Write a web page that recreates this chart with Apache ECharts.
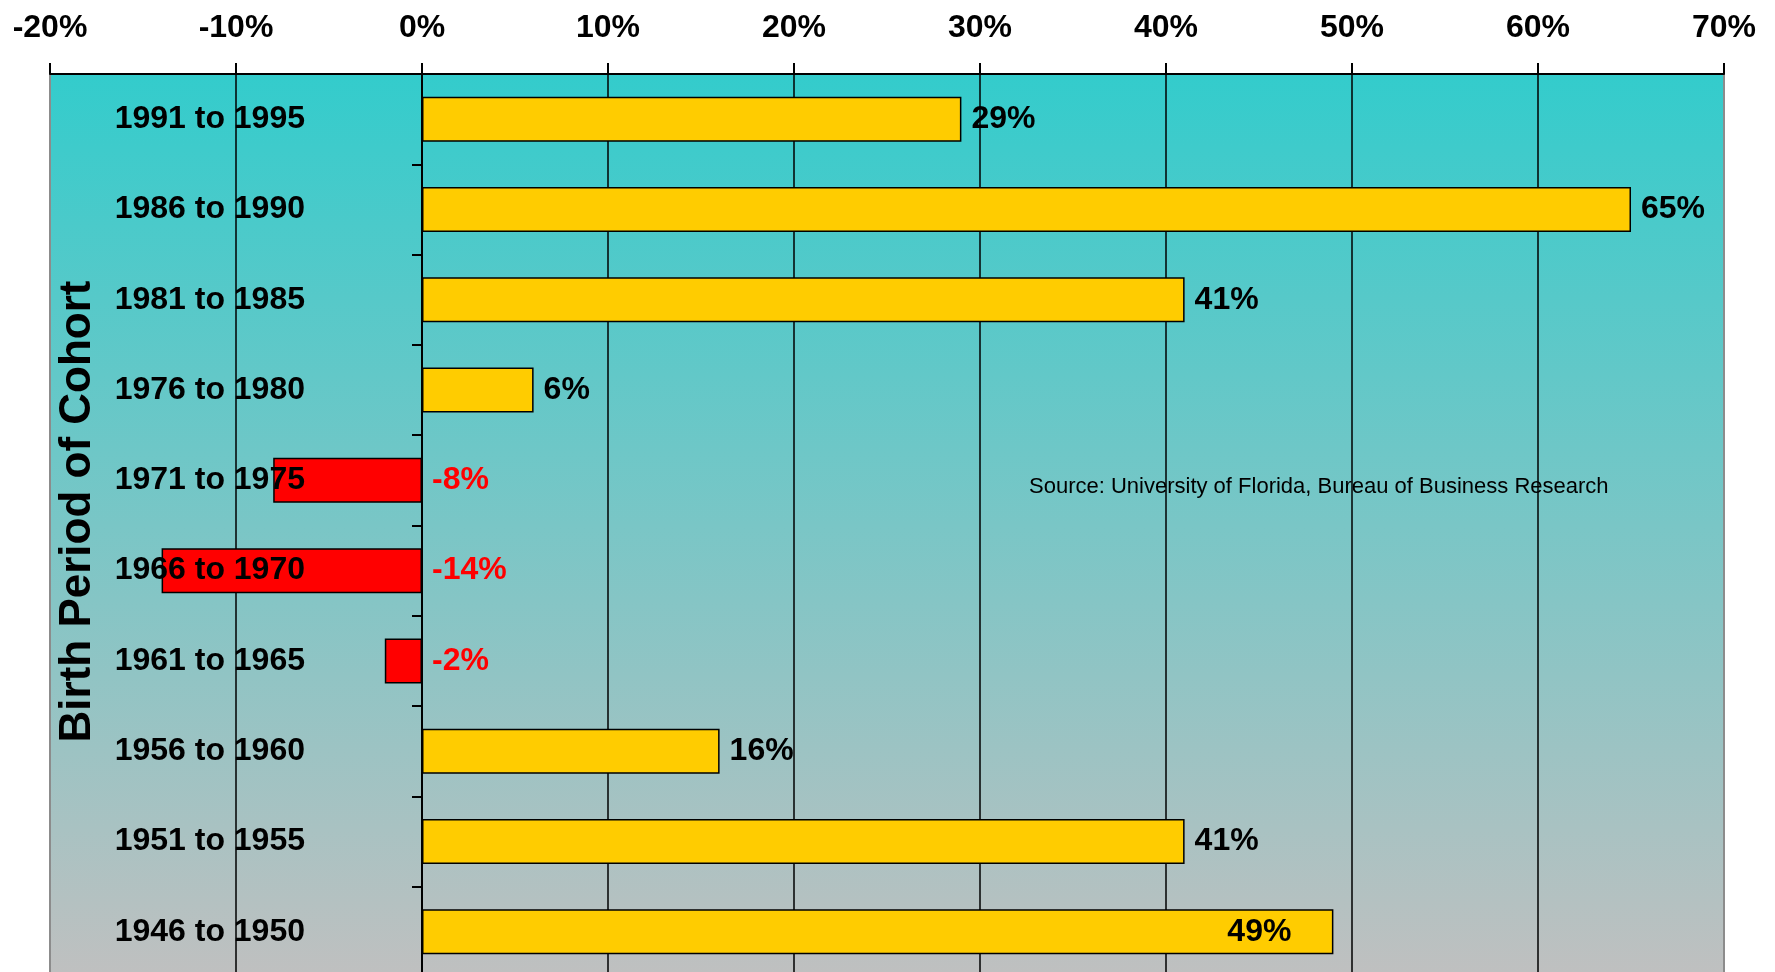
<!doctype html>
<html>
<head>
<meta charset="UTF-8">
<title>Birth Period of Cohort</title>
<script src="https://cdn.jsdelivr.net/npm/echarts@6/dist/echarts.min.js"></script>
<style>
	html, body { margin: 0; padding: 0; background: #fff; }
	#chart { width: 1775px; height: 972px; }
</style>
</head>
<body>
<div id="chart"></div>
<script>
// data, top to bottom
var cohorts = ['1991 to 1995', '1986 to 1990', '1981 to 1985', '1976 to 1980', '1971 to 1975',
	'1966 to 1970', '1961 to 1965', '1956 to 1960', '1951 to 1955', '1946 to 1950'];
var change = [29, 65, 41, 6, -8, -14, -2, 16, 41, 49];
var xRange = [-20, 70];
var xStep = 10;
var sourceNote = 'Source: University of Florida, Bureau of Business Research';

var font = '"Liberation Sans", Arial, sans-serif';

var barData = change.map(function (v, i) {
	var item = {
		value: v,
		itemStyle: { color: v < 0 ? '#ff0000' : '#ffcc00' },
		label: { color: v < 0 ? '#ff0000' : '#000000' }
	};
	// last bar has its label sitting inside the bar end
	if (i === change.length - 1) {
		item.label.position = 'insideRight';
		item.label.distance = 42;
	}
	return item;
});

var chart = echarts.init(document.getElementById('chart'));
chart.setOption({
	animation: false,
	grid: {
		left: 50, top: 74, width: 1674, height: 903,
		outerBoundsMode: 'none',
		containLabel: false,
		show: true,
		borderColor: '#8c8c8c',
		borderWidth: 2,
		backgroundColor: new echarts.graphic.LinearGradient(0, 0, 0, 1, [
			{ offset: 0, color: '#33cccc' },
			{ offset: 1, color: '#c0c0c0' }
		])
	},
	xAxis: {
		type: 'value',
		position: 'top',
		min: xRange[0],
		max: xRange[1],
		interval: xStep,
		axisLine: { show: true, lineStyle: { color: '#000', width: 2 } },
		axisTick: { show: true, length: 11, lineStyle: { color: '#000', width: 2 } },
		axisLabel: {
			formatter: '{value}%',
			margin: 30,
			color: '#000',
			fontSize: 32,
			fontWeight: 'bold',
			fontFamily: font
		},
		splitLine: {
			show: true,
			lineStyle: {
				width: 1.5,
				color: ['#8c8c8c', '#000', '#000', '#000', '#000', '#000', '#000', '#000', '#000', '#8c8c8c']
			}
		}
	},
	yAxis: {
		type: 'category',
		data: cohorts,
		inverse: true,
		z: 5,
		axisLine: { show: true, onZero: true, lineStyle: { color: '#000', width: 2 } },
		axisTick: { show: true, length: 10, lineStyle: { color: '#000', width: 2 } },
		// labels sit inside the plot, measured from the grid's left edge
		axisLabel: {
			margin: -255,
			color: '#000',
			fontSize: 32,
			fontWeight: 'bold',
			fontFamily: font
		},
		name: 'Birth Period of Cohort',
		nameLocation: 'middle',
		nameRotate: 90,
		nameGap: -50,
		nameTextStyle: {
			color: '#000',
			fontSize: 44,
			fontWeight: 'bold',
			fontFamily: font,
			padding: [0, 0, 0, 28]
		}
	},
	series: [{
		type: 'bar',
		data: barData,
		barWidth: 45,
		itemStyle: { borderColor: '#000', borderWidth: 1.5 },
		label: {
			show: true,
			position: 'right',
			distance: 10,
			formatter: '{c}%',
			fontSize: 32,
			fontWeight: 'bold',
			fontFamily: font
		}
	}],
	graphic: [{
		type: 'text',
		left: 1029,
		top: 476,
		z: 10,
		style: {
			text: sourceNote,
			fill: '#000',
			fontSize: 22,
			fontFamily: font
		}
	}]
});
</script>
</body>
</html>
